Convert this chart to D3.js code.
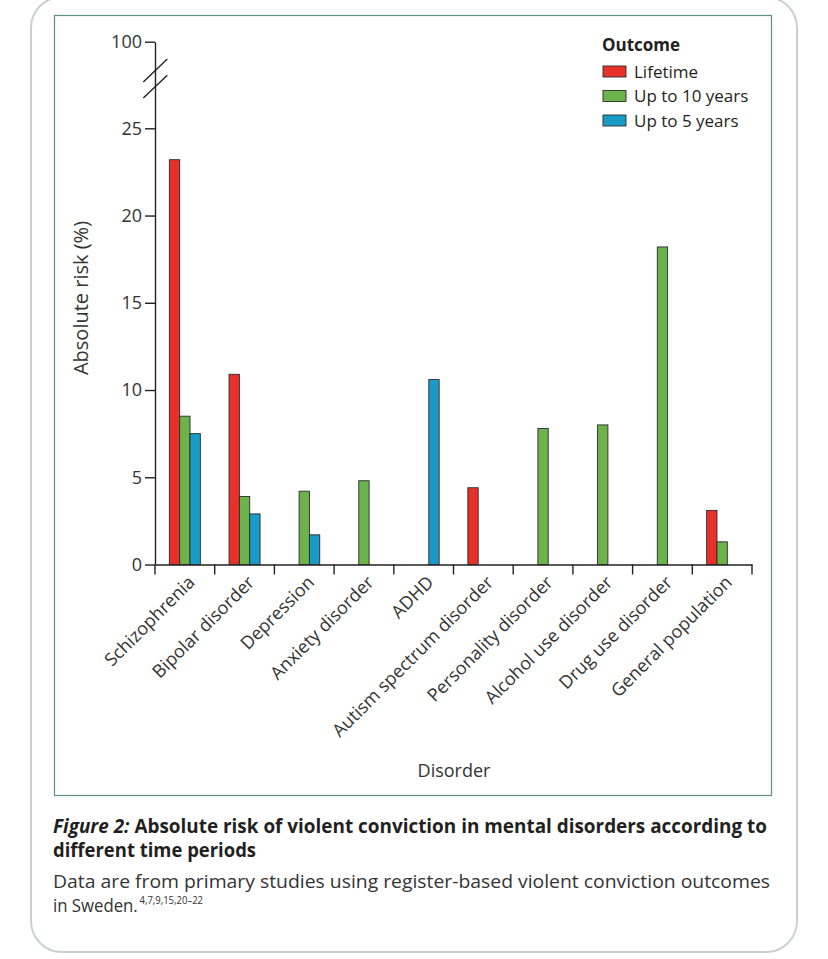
<!DOCTYPE html>
<html>
<head>
<meta charset="utf-8">
<script src="https://cdn.jsdelivr.net/npm/d3@7"></script>
<style>
  body { margin: 0; background: #fff; }
  text { font-family: "Open Sans", "Noto Sans", sans-serif; }
</style>
</head>
<body>
<div id="chart"></div>
<script>
// Datos del grafico
const categories = ["Schizophrenia", "Bipolar disorder", "Depression", "Anxiety disorder", "ADHD",
  "Autism spectrum disorder", "Personality disorder", "Alcohol use disorder", "Drug use disorder", "General population"];
const seriesNames = ["Lifetime", "Up to 10 years", "Up to 5 years"];
const lifetime = [23.2, 10.9, null, null, null, 4.4, null, null, null, 3.1];
const upTo10 = [8.5, 3.9, 4.2, 4.8, null, null, 7.8, 8.0, 18.2, 1.3];
const upTo5 = [7.5, 2.9, 1.7, null, 10.6, null, null, null, null, null];
const yTicks = [0, 5, 10, 15, 20, 25, 100];

const COLORS = ["#e8302a", "#6db34b", "#1a9bc7"];

const width = 828;
const height = 959;

const svg = d3.select("#chart")
  .append("svg")
  .attr("width", width)
  .attr("height", height);

// tarjeta exterior y caja del grafico
svg.append("rect")
  .attr("x", 31).attr("y", -3)
  .attr("width", 766).attr("height", 955)
  .attr("rx", 31)
  .attr("fill", "#fff")
  .attr("stroke", "#c9d0d5")
  .attr("stroke-width", 2);

svg.append("rect")
  .attr("x", 54.5).attr("y", 15.5)
  .attr("width", 717).attr("height", 780)
  .attr("fill", "none")
  .attr("stroke", "#5f8f88")
  .attr("stroke-width", 1.2);

// escalas
const x0 = d3.scaleBand()
  .domain(categories)
  .range([155, 752])
  .padding(0);

const x1 = d3.scaleBand()
  .domain(seriesNames)
  .range([0, x0.bandwidth()])
  .paddingInner(0)
  .paddingOuter(1.39);

const y = d3.scaleLinear()
  .domain([0, 25, 100])
  .range([564.5, 128.3, 41.7]);

const color = d3.scaleOrdinal().domain(seriesNames).range(COLORS);

const rows = [];
categories.forEach((c, i) => {
  [lifetime, upTo10, upTo5].forEach((arr, j) => {
    if (arr[i] != null) rows.push({ cat: c, serie: seriesNames[j], value: arr[i] });
  });
});

// barras
svg.append("g")
  .selectAll("rect")
  .data(rows)
  .join("rect")
  .attr("x", d => x0(d.cat) + x1(d.serie))
  .attr("y", d => y(d.value))
  .attr("width", x1.bandwidth())
  .attr("height", d => y(0) - y(d.value))
  .attr("fill", d => color(d.serie))
  .attr("stroke", "#2a2a2a")
  .attr("stroke-width", 0.9);

// eje Y
const ejeY = svg.append("g")
  .attr("transform", "translate(155,0)")
  .call(d3.axisLeft(y).tickValues(yTicks).tickSize(10).tickSizeOuter(0).tickPadding(3));

ejeY.select(".domain").attr("stroke", "#222").attr("stroke-width", 1.4);
ejeY.selectAll(".tick line").attr("stroke", "#222").attr("stroke-width", 1.4);
ejeY.selectAll(".tick text")
  .attr("font-size", 18)
  .attr("fill", "#333");

// marcas de corte
const breakY = [70.5, 86.7];
svg.append("g")
  .selectAll("line")
  .data(breakY)
  .join("line")
  .attr("x1", 143.3).attr("x2", 167.3)
  .attr("y1", d => d + 11.4).attr("y2", d => d - 11.4)
  .attr("stroke", "#222")
  .attr("stroke-width", 1.4);

// eje X
const ejeX = svg.append("g")
  .attr("transform", `translate(0,${y(0)})`)
  .call(d3.axisBottom(x0).tickSize(0).tickSizeOuter(0).tickPadding(0));

ejeX.select(".domain").attr("stroke", "#222").attr("stroke-width", 1.4);
ejeX.selectAll(".tick text")
  .attr("font-size", 18)
  .attr("fill", "#333")
  .attr("text-anchor", "end")
  .attr("dy", 0)
  .attr("y", 0)
  .attr("transform", "translate(11,19) rotate(-45)");

const bordes = categories.map(c => x0(c)).concat([x0.range()[1]]);
ejeX.selectAll(".borde")
  .data(bordes)
  .join("line")
  .attr("class", "borde")
  .attr("x1", d => d).attr("x2", d => d)
  .attr("y1", 0).attr("y2", 10)
  .attr("stroke", "#222")
  .attr("stroke-width", 1.4);

// titulos de ejes
svg.append("text")
  .attr("x", -298).attr("y", 88)
  .attr("transform", "rotate(-90)")
  .attr("text-anchor", "middle")
  .attr("font-size", 20)
  .attr("fill", "#333")
  .text("Absolute risk (%)");

svg.append("text")
  .attr("x", 454).attr("y", 777)
  .attr("text-anchor", "middle")
  .attr("font-size", 18)
  .attr("fill", "#333")
  .text("Disorder");

// leyenda
const legend = svg.append("g");
legend.append("text")
  .attr("x", 602).attr("y", 50.5)
  .attr("font-size", 17)
  .attr("font-weight", "bold")
  .attr("fill", "#231f20")
  .text("Outcome");

const items = legend.selectAll(".item")
  .data(seriesNames)
  .join("g")
  .attr("class", "item")
  .attr("transform", (d, i) => `translate(603,${66 + i * 24.5})`);

items.append("rect")
  .attr("width", 23).attr("height", 11)
  .attr("fill", d => color(d))
  .attr("stroke", "#2a2a2a")
  .attr("stroke-width", 0.9);

items.append("text")
  .attr("x", 31).attr("y", 11.5)
  .attr("font-size", 17)
  .attr("fill", "#231f20")
  .text(d => d);

// pie de figura
const cap1 = svg.append("text")
  .attr("x", 53).attr("y", 833)
  .attr("font-size", 19)
  .attr("font-weight", "bold")
  .attr("fill", "#231f20")
  .attr("textLength", 714)
  .attr("lengthAdjust", "spacingAndGlyphs");
cap1.append("tspan").attr("font-style", "italic").text("Figure 2: ");
cap1.append("tspan").text("Absolute risk of violent conviction in mental disorders according to");

svg.append("text")
  .attr("x", 53).attr("y", 857)
  .attr("font-size", 19)
  .attr("font-weight", "bold")
  .attr("fill", "#231f20")
  .attr("textLength", 203)
  .attr("lengthAdjust", "spacingAndGlyphs")
  .text("different time periods");

svg.append("text")
  .attr("x", 53).attr("y", 888)
  .attr("font-size", 18.5)
  .attr("fill", "#333")
  .attr("textLength", 717)
  .attr("lengthAdjust", "spacingAndGlyphs")
  .text("Data are from primary studies using register-based violent conviction outcomes");

const cap4 = svg.append("text")
  .attr("x", 53).attr("y", 912)
  .attr("font-size", 18.5)
  .attr("fill", "#333")
  .attr("textLength", 150)
  .attr("lengthAdjust", "spacingAndGlyphs");
cap4.append("tspan").text("in Sweden.");
cap4.append("tspan")
  .attr("font-size", 10.5)
  .attr("dy", -8)
  .attr("dx", 2)
  .text("4,7,9,15,20–22");
</script>
</body>
</html>
